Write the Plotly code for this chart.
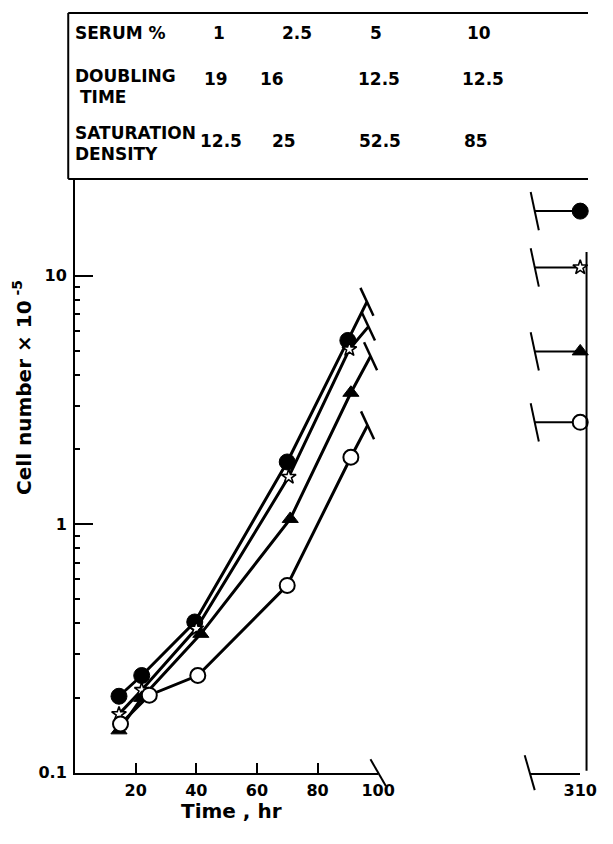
import plotly.graph_objects as go

# ---------------- data ----------------
serum_pct = ["1", "2.5", "5", "10"]
doubling_time = ["19", "16", "12.5", "12.5"]
saturation_density = ["12.5", "25", "52.5", "85"]

time_filled_circle = [14.5, 22, 39.5, 70, 90]
cells_filled_circle = [0.203, 0.246, 0.404, 1.78, 5.49]
time_star = [14.5, 22, 40, 70.5, 90.5]
cells_star = [0.172, 0.215, 0.38, 1.55, 5.06]
time_triangle = [14.5, 22, 41.5, 71, 91]
cells_triangle = [0.148, 0.20, 0.362, 1.05, 3.38]
time_open_circle = [15, 24.5, 40.5, 70, 91]
cells_open_circle = [0.157, 0.205, 0.246, 0.567, 1.86]

# where each drawn line is broken off (continuation towards the late point)
line_end_time = [96.3, 96.8, 97.5, 96.5]
line_end_cells = [7.85, 6.24, 4.74, 2.50]

# late (saturation) time point
late_time = 310
late_cells = [18.2, 10.8, 4.96, 2.57]
late_break_time = 301

x_tick_vals = [20, 40, 60, 80, 100]
x2_tick_vals = [310]
y_tick_vals = [0.1, 1, 10]
y_tick_text = ["0.1", "1", "10"]
y_minor_vals = [0.2, 0.3, 0.4, 0.5, 0.6, 0.7, 0.8, 0.9, 2, 3, 4, 5, 6, 7, 8, 9]

# ---------------- layout geometry ----------------
# page body has an 8px margin: the figure is sized to fit the 613x844 window exactly
W, H = 597, 828
FONT = "DejaVu Sans"


def px(x):  # screen pixel -> paper fraction
    return (x - 8) / W


def py(y):
    return 1 - (y - 8) / H


styles = [
    dict(symbol="circle", size=16, color="black", line=dict(color="black", width=1)),
    dict(symbol="star", size=11, color="white", line=dict(color="black", width=1.6)),
    dict(symbol="triangle-up", size=14, color="black", line=dict(color="black", width=1)),
    dict(symbol="circle", size=15, color="white", line=dict(color="black", width=2)),
]
series_t = [time_filled_circle, time_star, time_triangle, time_open_circle]
series_c = [cells_filled_circle, cells_star, cells_triangle, cells_open_circle]

fig = go.Figure()

brk = dict(symbol="line-ns", size=22, angle=-25, color="black",
           line=dict(color="black", width=2.5))

for i in range(4):
    t = series_t[i] + [line_end_time[i]]
    c = series_c[i] + [line_end_cells[i]]
    fig.add_trace(go.Scatter(x=t, y=c, mode="lines",
                             line=dict(color="black", width=3),
                             xaxis="x", yaxis="y", cliponaxis=False, hoverinfo="skip"))
    fig.add_trace(go.Scatter(x=[line_end_time[i]], y=[line_end_cells[i]], mode="markers",
                             marker=brk, xaxis="x", yaxis="y", cliponaxis=False, hoverinfo="skip"))

for i in range(4):
    fig.add_trace(go.Scatter(x=series_t[i], y=series_c[i], mode="markers",
                             marker=styles[i], xaxis="x", yaxis="y", cliponaxis=False))

# late panel
for i in range(4):
    fig.add_trace(go.Scatter(x=[late_break_time, late_time], y=[late_cells[i], late_cells[i]],
                             mode="lines", line=dict(color="black", width=2),
                             xaxis="x2", yaxis="y", cliponaxis=False, hoverinfo="skip"))
    fig.add_trace(go.Scatter(x=[late_break_time], y=[late_cells[i]], mode="markers",
                             marker=dict(symbol="line-ns", size=28, angle=-12, color="black",
                                         line=dict(color="black", width=2)),
                             xaxis="x2", yaxis="y", cliponaxis=False, hoverinfo="skip"))
    fig.add_trace(go.Scatter(x=[late_time], y=[late_cells[i]], mode="markers",
                             marker=styles[i], xaxis="x2", yaxis="y", cliponaxis=False))

# axis break marks
fig.add_trace(go.Scatter(x=[100], y=[0.1], mode="markers",
                         marker=dict(symbol="line-ns", size=22, angle=-30, color="black",
                                     line=dict(color="black", width=2)),
                         xaxis="x", yaxis="y", cliponaxis=False, hoverinfo="skip"))
fig.add_trace(go.Scatter(x=[300], y=[0.1], mode="markers",
                         marker=dict(symbol="line-ns", size=26, angle=-16, color="black",
                                     line=dict(color="black", width=2)),
                         xaxis="x2", yaxis="y", cliponaxis=False, hoverinfo="skip"))

axis_font = dict(family=FONT, size=16, color="black", weight="bold")

fig.update_layout(
    width=W, height=H,
    margin=dict(l=0, r=0, t=0, b=0),
    paper_bgcolor="white", plot_bgcolor="white",
    showlegend=False,
    font=dict(family=FONT, color="black"),
    xaxis=dict(domain=[px(77), px(389)], range=[0, 100], showline=True, linecolor="black",
               linewidth=2, ticks="inside", ticklen=10, tickwidth=2, tickcolor="black",
               tickvals=x_tick_vals, tickfont=axis_font, showgrid=False, zeroline=False,
               anchor="y", ticklabelstandoff=2),
    xaxis2=dict(domain=[px(545), px(597)], range=[300, 310], showline=True, linecolor="black",
                linewidth=2, ticks="inside", ticklen=10, tickwidth=2, tickcolor="black",
                tickvals=x2_tick_vals, tickfont=axis_font, showgrid=False, zeroline=False,
                anchor="y", ticklabelstandoff=2),
    yaxis=dict(domain=[py(782), py(181)], type="log", range=[-1, 1.3897], showline=True,
               linecolor="black", linewidth=2, ticks="inside", ticklen=18, tickwidth=2,
               tickcolor="black", tickvals=y_tick_vals, ticktext=y_tick_text,
               tickfont=axis_font, showgrid=False, zeroline=False, anchor="x",
               ticklabelstandoff=3,
               minor=dict(tickvals=y_minor_vals, ticks="inside", ticklen=5, tickwidth=2,
                          tickcolor="black", showgrid=False)),
)

shapes = [
    dict(type="line", xref="paper", yref="paper", x0=px(70), x1=1, y0=py(13), y1=py(13),
         line=dict(color="black", width=2)),
    dict(type="line", xref="paper", yref="paper", x0=px(70), x1=px(70), y0=py(13), y1=py(181),
         line=dict(color="black", width=2)),
    dict(type="line", xref="paper", yref="paper", x0=px(70), x1=1, y0=py(181), y1=py(181),
         line=dict(color="black", width=2)),
    dict(type="line", xref="paper", yref="paper", x0=px(603.5), x1=px(603.5), y0=py(255),
         y1=py(780), line=dict(color="black", width=2)),
]
fig.update_layout(shapes=shapes)

tfont = dict(family=FONT, size=17, color="black", weight="bold")
ann = []


def add_text(text, x, y, anchor="left", font=tfont, angle=0):
    ann.append(dict(text=text, x=px(x), y=py(y), xref="paper", yref="paper",
                    xanchor=anchor, yanchor="middle", showarrow=False, font=font,
                    textangle=angle))


add_text("SERUM %", 75, 33)
add_text("DOUBLING", 75, 77)
add_text("TIME", 80, 98)
add_text("SATURATION", 75, 135)
add_text("DENSITY", 75, 156)

row1_x = [225, 305, 387, 493]
row2_x = [222, 280, 390, 497]
row3_x = [227, 292, 391, 490]
for i in range(4):
    add_text(serum_pct[i], row1_x[i], 33, anchor="center")
    add_text(doubling_time[i], row2_x[i], 80, anchor="center")
    add_text(saturation_density[i], row3_x[i], 143, anchor="center")

add_text("Time , hr", 238, 821, anchor="center",
         font=dict(family=FONT, size=20, color="black", weight="bold"))
add_text("Cell number × 10<sup> -5</sup>", 23, 392, anchor="center",
         font=dict(family=FONT, size=20, color="black", weight="bold"), angle=-90)

fig.update_layout(annotations=ann)

fig.write_html("out.html")
